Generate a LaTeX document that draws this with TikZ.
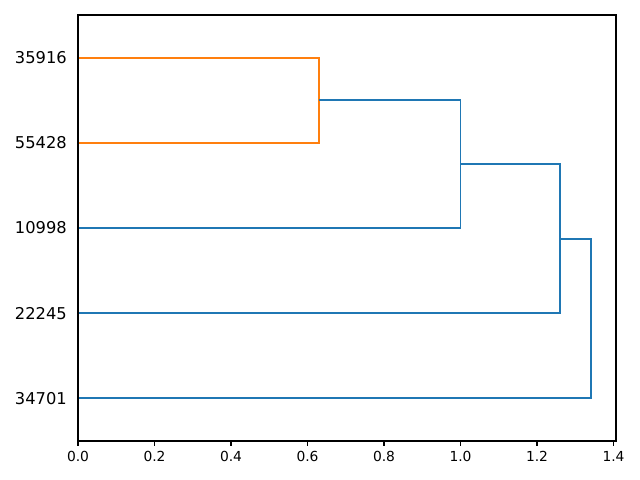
\documentclass[tikz,border=0pt]{standalone}
\usepackage{fontspec}
\setmainfont{DejaVu Sans}
\definecolor{mplblue}{HTML}{1F77B4}
\definecolor{mplorange}{HTML}{FF7F0E}
\begin{document}
\begin{tikzpicture}[
    x=11.475cm, y=0.2556cm,
    link/.style={line width=1.7pt, line join=miter},
    spine/.style={line width=0.95pt},
    leaf/.style={anchor=east, inner sep=0pt, xshift=-0.33cm,
      font=\fontsize{13.9}{16}\selectfont},
    tick/.style={anchor=north, inner sep=0pt, yshift=-0.3cm,
      font=\fontsize{11.8}{14}\selectfont}
  ]
    \useasboundingbox (-0.2039,-4.577) rectangle (1.4693,51.76);

    % leaves
    \coordinate (l1) at (0,45);
    \coordinate (l2) at (0,35);
    \coordinate (l3) at (0,25);
    \coordinate (l4) at (0,15);
    \coordinate (l5) at (0,5);
    \node[leaf] (t1) at (l1) {35916};
    \node[leaf] (t2) at (l2) {55428};
    \node[leaf] (t3) at (l3) {10998};
    \node[leaf] (t4) at (l4) {22245};
    \node[leaf] (t5) at (l5) {34701};

    % links
    \draw[link, mplorange] (l1) -- (0.63,45) -- (0.63,35) -- (l2);
    \draw[link, mplblue] (0.63,40) -- (1.0,40) -- (1.0,25) -- (l3);
    \draw[link, mplblue] (1.0,32.5) -- (1.26,32.5) -- (1.26,15) -- (l4);
    \draw[link, mplblue] (1.26,23.75) -- (1.341,23.75) -- (1.341,5) -- (l5);

    % axes
    \draw[spine] (0,0) rectangle (1.4065,50);
    \foreach \v/\s in {0/0.0,0.2/0.2,0.4/0.4,0.6/0.6,0.8/0.8,1.0/1.0,1.2/1.2,1.4/1.4} {
      \draw[spine] (\v,0) -- ++(0,-0.16cm);
      \node[tick] at (\v,0) {\s};
    }
\end{tikzpicture}
\end{document}
